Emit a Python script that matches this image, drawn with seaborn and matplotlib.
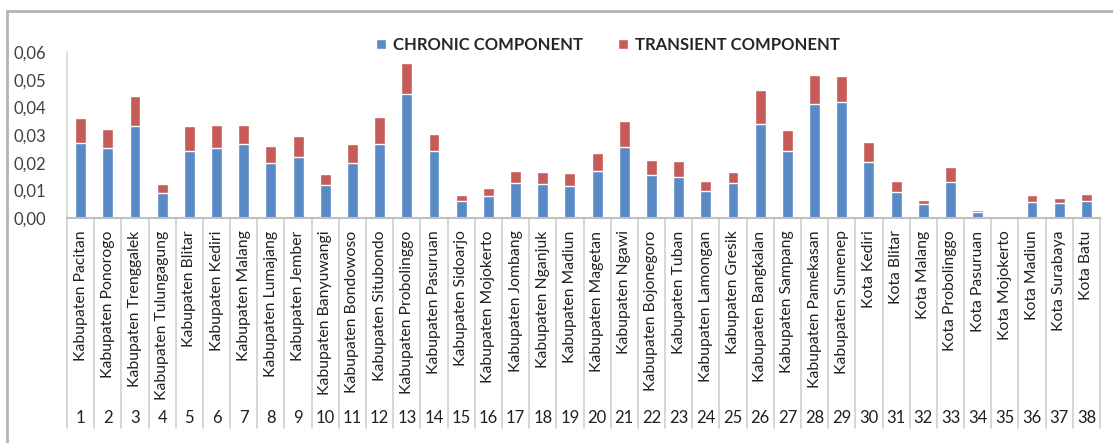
import numpy as np
import pandas as pd
import matplotlib
matplotlib.use('Agg')
import matplotlib.pyplot as plt
import matplotlib.transforms as mtransforms
import seaborn as sns

# Data
regions = ['Kabupaten Pacitan', 'Kabupaten Ponorogo', 'Kabupaten Trenggalek', 'Kabupaten Tulungagung',
           'Kabupaten Blitar', 'Kabupaten Kediri', 'Kabupaten Malang', 'Kabupaten Lumajang',
           'Kabupaten Jember', 'Kabupaten Banyuwangi', 'Kabupaten Bondowoso', 'Kabupaten Situbondo',
           'Kabupaten Probolinggo', 'Kabupaten Pasuruan', 'Kabupaten Sidoarjo', 'Kabupaten Mojokerto',
           'Kabupaten Jombang', 'Kabupaten Nganjuk', 'Kabupaten Madiun', 'Kabupaten Magetan',
           'Kabupaten Ngawi', 'Kabupaten Bojonegoro', 'Kabupaten Tuban', 'Kabupaten Lamongan',
           'Kabupaten Gresik', 'Kabupaten Bangkalan', 'Kabupaten Sampang', 'Kabupaten Pamekasan',
           'Kabupaten Sumenep', 'Kota Kediri', 'Kota Blitar', 'Kota Malang', 'Kota Probolinggo',
           'Kota Pasuruan', 'Kota Mojokerto', 'Kota Madiun', 'Kota Surabaya', 'Kota Batu']
chronic = [0.0271, 0.0254, 0.0333, 0.0089, 0.0241, 0.0254, 0.0266, 0.0199, 0.0220, 0.0118,
           0.0199, 0.0266, 0.0447, 0.0243, 0.0060, 0.0081, 0.0125, 0.0122, 0.0116, 0.0170,
           0.0256, 0.0156, 0.0150, 0.0099, 0.0126, 0.0340, 0.0243, 0.0412, 0.0420, 0.0202,
           0.0095, 0.0052, 0.0131, 0.0023, 0.0000, 0.0058, 0.0054, 0.0060]
total = [0.0362, 0.0321, 0.0440, 0.0124, 0.0333, 0.0336, 0.0336, 0.0259, 0.0295, 0.0159,
         0.0266, 0.0365, 0.0562, 0.0304, 0.0083, 0.0108, 0.0170, 0.0166, 0.0162, 0.0234,
         0.0350, 0.0208, 0.0205, 0.0134, 0.0166, 0.0461, 0.0318, 0.0516, 0.0513, 0.0274,
         0.0134, 0.0066, 0.0185, 0.0028, 0.0000, 0.0083, 0.0072, 0.0086]
numbers = [str(i) for i in range(1, 39)]

df = pd.DataFrame({'Region': regions, 'Chronic': chronic, 'Total': total})

sns.set_style('white')
plt.rcParams['font.family'] = ['Lato', 'DejaVu Sans']

blue = '#5A8AC6'
red = '#C65B57'
grey = '#BFBFBF'

fig = plt.figure(figsize=(11.13, 4.43), dpi=100)
ax = fig.add_axes([67/1113, 1-218/443, (1100-67)/1113, (218-52)/443])

# stacked bars: total in red, chronic part in blue on top of it
sns.barplot(data=df, x='Region', y='Total', color=red, width=0.4, saturation=1,
            label='TRANSIENT COMPONENT', ax=ax)
sns.barplot(data=df, x='Region', y='Chronic', color=blue, width=0.4, saturation=1,
            label='CHRONIC COMPONENT', ax=ax)
handles, labels = ax.get_legend_handles_labels()
if ax.get_legend() is not None:
    ax.get_legend().remove()

ax.set_ylim(0, 0.06)
ax.set_xlim(-0.5, len(regions) - 0.5)
ax.set_yticks(np.arange(0, 0.061, 0.01))
ax.set_yticklabels([f'{v:.2f}'.replace('.', ',') for v in np.arange(0, 0.061, 0.01)],
                   fontsize=12, color='#404040')
ax.set_xlabel('')
ax.set_ylabel('')
ax.set_xticks(range(len(regions)))
ax.set_xticklabels(regions, rotation=90, fontsize=11.3, color='#202020', va='top', ha='center')
ax.tick_params(axis='x', length=0, pad=9)
ax.tick_params(axis='y', length=0, pad=15)

for s in ['top', 'right']:
    ax.spines[s].set_visible(False)
ax.spines['left'].set_color('#D9D9D9')
ax.spines['bottom'].set_color(grey)
ax.spines['left'].set_linewidth(1.2)
ax.spines['bottom'].set_linewidth(1.5)

# category separators and row numbers (multi-level axis look)
trans = mtransforms.blended_transform_factory(ax.transData, ax.transAxes)
y_low = (218 - 428) / 166
for k in range(len(regions) + 1):
    ax.plot([k - 0.5, k - 0.5], [0, y_low], transform=trans, color='#D0D0D0',
            lw=1.2, clip_on=False)
for k, n in enumerate(numbers):
    ax.text(k, (218 - 418) / 166, n, transform=trans, ha='center', va='center',
            fontsize=12, color='#202020')

# legend on top, blue first
order = [labels.index('CHRONIC COMPONENT'), labels.index('TRANSIENT COMPONENT')]
fig.legend([handles[i] for i in order], [labels[i] for i in order],
           loc='center', bbox_to_anchor=(608/1113, 1-45/443), ncol=2, frameon=False,
           prop={'weight': 'bold', 'size': 12}, handlelength=0.6, handleheight=0.6,
           handletextpad=0.4, columnspacing=2.1)

# outer chart border (cropped on the right and bottom)
fig.add_artist(plt.Line2D([7/1113, 7/1113], [0, 1-11/443], color='#B3B3B3', lw=2,
                          transform=fig.transFigure))
fig.add_artist(plt.Line2D([7/1113, 1], [1-11/443, 1-11/443], color='#B3B3B3', lw=2,
                          transform=fig.transFigure))

fig.savefig('out.png', dpi=100)
